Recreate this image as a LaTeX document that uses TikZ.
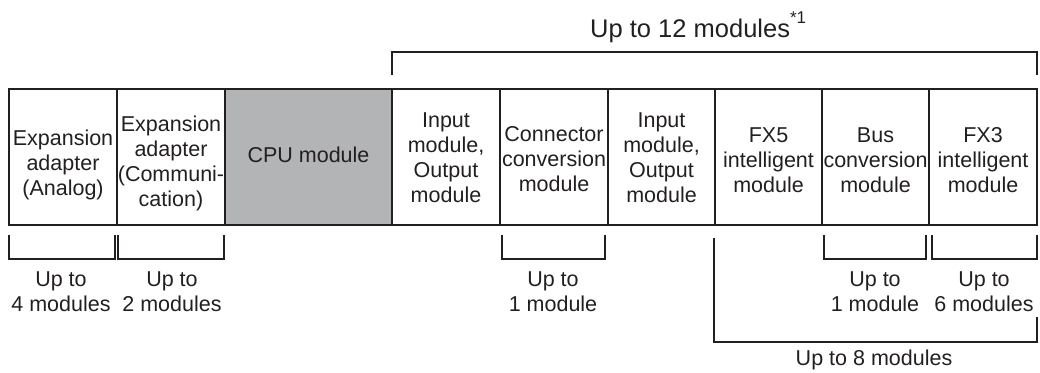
\documentclass[tikz,border=0pt]{standalone}
\usepackage{fontspec}
\setmainfont{Liberation Sans}
\definecolor{ink}{RGB}{35,31,32}
\definecolor{cpugray}{RGB}{179,180,182}
\tikzset{
  box/.style={draw=ink, line width=2.7pt, inner sep=0pt, minimum height=136pt},
  txt/.style={text=ink, font=\fontsize{21.5}{25}\selectfont, align=center, inner sep=0pt},
  brk/.style={draw=ink, line width=2pt},
}
\begin{document}
\begin{tikzpicture}[x=1pt,y=-1pt]
\useasboundingbox (0,0) rectangle (1040,372);
% module boxes
\node[box, minimum width=108pt] (b1) at (63,157) {};
\node[box, minimum width=108pt] (b2) at (171,157) {};
\node[box, minimum width=167pt, fill=cpugray] (b3) at (308.5,157) {};
\node[box, minimum width=108pt] (b4) at (446,157) {};
\node[box, minimum width=108pt] (b5) at (554,157) {};
\node[box, minimum width=107pt] (b6) at (661.5,157) {};
\node[box, minimum width=107pt] (b7) at (768.5,157) {};
\node[box, minimum width=107pt] (b8) at (875.5,157) {};
\node[box, minimum width=108pt] (b9) at (983,157) {};
% box texts
\node[txt] (t1) at ([yshift=-8pt]b1.center) {Expansion\\adapter\\(Analog)};
\node[txt] (t2) at ([yshift=-6pt]b2.center) {Expansion\\adapter\\(Communi-\\cation)};
\node[txt] (t3) at ([yshift=2pt]b3.center) {CPU module};
\node[txt] (t4) at ([yshift=-1pt]b4.center) {Input\\module,\\Output\\module};
\node[txt] (t5) at ([yshift=-2pt]b5.center) {Connector\\conversion\\module};
\node[txt] (t6) at ([yshift=-1pt]b6.center) {Input\\module,\\Output\\module};
\node[txt] (t7) at ([yshift=-3pt]b7.center) {FX5\\intelligent\\module};
\node[txt] (t8) at ([yshift=-3pt]b8.center) {Bus\\conversion\\module};
\node[txt] (t9) at ([yshift=-3pt]b9.center) {FX3\\intelligent\\module};
% top bracket
\coordinate (ta) at (392,75);
\coordinate (tb) at (1037,75);
\draw[brk] (ta) -- ++(0,-23) -| (tb);
\node[anchor=base west, text=ink, font=\fontsize{25.5}{30}\selectfont, inner sep=0pt] (top) at (590,37) {Up to 12 modules\raisebox{14pt}{\fontsize{17}{17}\selectfont *1}};
% bottom brackets
\coordinate (u1a) at (9,235);   \coordinate (u1b) at (115,235);
\coordinate (u2a) at (118,235); \coordinate (u2b) at (224,235);
\coordinate (u3a) at (502,235); \coordinate (u3b) at (605,235);
\coordinate (u4a) at (824,235); \coordinate (u4b) at (926,235);
\coordinate (u5a) at (932,235); \coordinate (u5b) at (1037,235);
\coordinate (e1) at (714,238);  \coordinate (e2) at (1037,317);
\draw[brk] (u1a) -- ++(0,24) -| (u1b);
\draw[brk] (u2a) -- ++(0,24) -| (u2b);
\draw[brk] (u3a) -- ++(0,24) -| (u3b);
\draw[brk] (u4a) -- ++(0,24) -| (u4b);
\draw[brk] (u5a) -- ++(0,24) -| (u5b);
\draw[brk] (e1) -- ++(0,104) -| (e2);
% bottom labels
\node[txt] (l1) at (61,292) {Up to\\4 modules};
\node[txt] (l2) at (172,292) {Up to\\2 modules};
\node[txt] (l3) at (553,292) {Up to\\1 module};
\node[txt] (l4) at (875,292) {Up to\\1 module};
\node[txt] (l5) at (984,292) {Up to\\6 modules};
\node[txt] (l6) at (874,360) {Up to 8 modules};
\end{tikzpicture}
\end{document}
